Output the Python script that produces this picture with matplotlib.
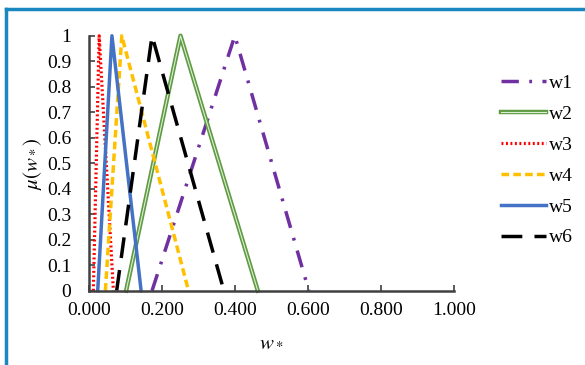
import matplotlib.pyplot as plt
import matplotlib.patheffects as pe
from matplotlib.lines import Line2D

plt.rcParams['font.family'] = ['Liberation Serif', 'DejaVu Serif']
plt.rcParams['mathtext.fontset'] = 'stix'

# triangular membership functions (left, peak, right)
names = ['w1', 'w2', 'w3', 'w4', 'w5', 'w6']
w1 = [0.172, 0.399, 0.602]
w2 = [0.101, 0.250, 0.462]
w3 = [0.011, 0.027, 0.066]
w4 = [0.044, 0.089, 0.272]
w5 = [0.023, 0.062, 0.142]
w6 = [0.075, 0.172, 0.369]
mu = [0, 1, 0]

xticks = [0.0, 0.2, 0.4, 0.6, 0.8, 1.0]
yticks = [0, 0.1, 0.2, 0.3, 0.4, 0.5, 0.6, 0.7, 0.8, 0.9, 1]

fig = plt.figure(figsize=(5.85, 3.65), dpi=100)
ax = fig.add_axes([0.1527, 0.2036, 0.776 - 0.1527, 0.902 - 0.2036])

ax.plot(w1, mu, color='#7030A0', lw=2.5, dashes=(5, 3, 0.8, 3), label='w1', clip_on=False)
ax.plot(w2, mu, color='#DDEED5', lw=0.8, label='w2', clip_on=False,
        path_effects=[pe.Stroke(linewidth=3.2, foreground='#5E9B42'), pe.Normal()])
ax.plot(w3, mu, color='#FF0000', lw=2.3, dashes=(0.6, 0.8), label='w3', clip_on=False)
ax.plot(w4, mu, color='#FFC000', lw=2.5, dashes=(2.2, 1.2), label='w4', clip_on=False)
ax.plot(w5, mu, color='#4472C4', lw=2.5, label='w5', clip_on=False)
ax.plot(w6, mu, color='black', lw=2.5, dashes=(6, 3.5), label='w6', clip_on=False)

ax.set_xlim(0, 1)
ax.set_ylim(0, 1)
ax.set_xticks(xticks)
ax.set_xticklabels(['%.3f' % v for v in xticks])
ax.set_yticks(yticks)
ax.set_yticklabels(['%g' % v for v in yticks])
for s in ['top', 'right']:
    ax.spines[s].set_visible(False)
for s in ['left', 'bottom']:
    ax.spines[s].set_color('#404040')
    ax.spines[s].set_linewidth(1.8)
ax.tick_params(direction='in', length=4, width=1.2, color='#404040', labelsize=14, pad=8)
ax.tick_params(axis='y', pad=13)

ax.set_xlabel(r'$w_*$', fontsize=15, labelpad=10)
ax.set_ylabel(r'$\mu(w_*)$', fontsize=15, labelpad=2)

ax.legend(loc='upper left', bbox_to_anchor=(0.843, 0.817), bbox_transform=fig.transFigure,
          frameon=False, fontsize=14, handlelength=2.3, handletextpad=0.15,
          labelspacing=0.68, borderaxespad=0)

# blue frame (left and top)
fig.add_artist(Line2D([0.0095, 0.0095], [0, 0.976], transform=fig.transFigure, color='#1A87C0', lw=2.5))
fig.add_artist(Line2D([0.0095, 1], [0.976, 0.976], transform=fig.transFigure, color='#1A87C0', lw=2.5))

plt.savefig('out.png', dpi=100)
